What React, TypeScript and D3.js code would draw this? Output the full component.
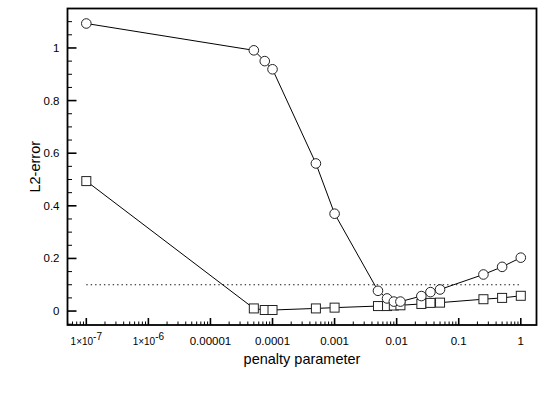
import React, { useRef, useEffect } from "react"
import * as d3 from "d3"

// penalty values (x) shared by both series
const penalty = [1e-7, 5e-5, 7.5e-5, 1e-4, 5e-4, 1e-3, 5e-3, 7e-3, 9e-3, 1.15e-2, 2.5e-2, 3.5e-2, 5e-2, 0.25, 0.5, 1]
const circleErr = [1.093, 0.991, 0.95, 0.919, 0.561, 0.37, 0.077, 0.048, 0.036, 0.036, 0.057, 0.072, 0.082, 0.139, 0.168, 0.203]
const squareErr = [0.494, 0.01, 0.004, 0.004, 0.01, 0.013, 0.019, 0.019, 0.021, 0.022, 0.027, 0.031, 0.032, 0.045, 0.05, 0.058]
const threshold = 0.1
const yTicks = [0, 0.2, 0.4, 0.6, 0.8, 1]
const xTickExp = [-7, -6, -5, -4, -3, -2, -1, 0]
const xTickLabels = ["1x10|-7", "1x10|-6", "0.00001", "0.0001", "0.001", "0.01", "0.1", "1"]

export default function App() {
  const svgRef = useRef(null)

  useEffect(() => {
    const svg = d3.select(svgRef.current)
    svg.selectAll("*").remove()

    const left = 67.5, right = 536.5, top = 8.5, bottom = 325
    const font = "'Liberation Sans', Arial, Helvetica, sans-serif"

    const x = d3.scaleLog().domain([Math.pow(10, -7.303), Math.pow(10, 0.253)]).range([left, right])
    const y = d3.scaleLinear().domain([-0.053, 1.15]).range([bottom, top])

    const g = svg.append("g")

    // y ticks (major + minor), drawn inward
    const yMinor = d3.range(-0.05, 1.151, 0.05).map(v => +v.toFixed(2))
    g.selectAll(".ymin").data(yMinor).enter().append("line")
      .attr("x1", left).attr("x2", d => yTicks.includes(d) ? left + 9 : left + 4.5)
      .attr("y1", d => y(d)).attr("y2", d => y(d))
      .attr("stroke", "black").attr("stroke-width", d => yTicks.includes(d) ? 1.6 : 1)

    g.selectAll(".ylab").data(yTicks).enter().append("text")
      .attr("x", left - 8).attr("y", d => y(d) + 4)
      .attr("text-anchor", "end")
      .attr("font-family", font).attr("font-size", "11.5px")
      .text(d => d3.format("~g")(d))

    // x ticks: majors at decades, minors at 2..9
    const xMinor = []
    for (let e = -8; e <= 0; e++) {
      for (let m = 2; m <= 9; m++) {
        const v = m * Math.pow(10, e)
        if (x(v) > left && x(v) < right) xMinor.push(v)
      }
    }
    g.selectAll(".xmin").data(xMinor).enter().append("line")
      .attr("x1", d => x(d)).attr("x2", d => x(d))
      .attr("y1", bottom).attr("y2", bottom - 3.5)
      .attr("stroke", "black").attr("stroke-width", 1)

    g.selectAll(".xmaj").data(xTickExp).enter().append("line")
      .attr("x1", d => x(Math.pow(10, d))).attr("x2", d => x(Math.pow(10, d)))
      .attr("y1", bottom).attr("y2", bottom - 7)
      .attr("stroke", "black").attr("stroke-width", 1.6)

    const xl = g.selectAll(".xlab").data(xTickExp).enter().append("text")
      .attr("x", d => x(Math.pow(10, d)))
      .attr("y", 345)
      .attr("text-anchor", "middle")
      .attr("font-family", font).attr("font-size", "11.5px")
    xl.each(function (d, i) {
      const t = d3.select(this)
      const lab = xTickLabels[i]
      if (lab.includes("|")) {
        const [base, sup] = lab.split("|")
        t.append("tspan").attr("font-size", "10px").text(base.replace("x", "\u00d7"))
        t.append("tspan").attr("font-size", "10px").attr("dy", -5).text(sup)
      } else {
        t.text(lab)
      }
    })

    // threshold dotted line
    g.append("line")
      .attr("x1", x(1e-7)).attr("x2", x(1))
      .attr("y1", y(threshold)).attr("y2", y(threshold))
      .attr("stroke", "#111").attr("stroke-width", 1.1)
      .attr("stroke-dasharray", "1.4,3")

    const lineC = d3.line().x((d, i) => x(penalty[i])).y(d => y(d))

    g.append("path").datum(squareErr).attr("d", lineC)
      .attr("fill", "none").attr("stroke", "black").attr("stroke-width", 1)
    g.append("path").datum(circleErr).attr("d", lineC)
      .attr("fill", "none").attr("stroke", "black").attr("stroke-width", 1)

    g.selectAll(".sq").data(squareErr).enter().append("rect")
      .attr("x", (d, i) => x(penalty[i]) - 4.5).attr("y", d => y(d) - 4.5)
      .attr("width", 9).attr("height", 9)
      .attr("fill", "white").attr("stroke", "#222").attr("stroke-width", 1)

    g.selectAll(".ci").data(circleErr).enter().append("circle")
      .attr("cx", (d, i) => x(penalty[i])).attr("cy", d => y(d))
      .attr("r", 4.8)
      .attr("fill", "white").attr("stroke", "#222").attr("stroke-width", 1)

    // frame
    g.append("rect")
      .attr("x", left).attr("y", top)
      .attr("width", right - left).attr("height", bottom - top)
      .attr("fill", "none").attr("stroke", "black").attr("stroke-width", 1.8)

    // axis titles
    g.append("text")
      .attr("x", (left + right) / 2).attr("y", 364)
      .attr("text-anchor", "middle")
      .attr("font-family", font).attr("font-size", "14.5px")
      .text("penalty parameter")

    g.append("text")
      .attr("transform", "translate(40," + ((top + bottom) / 2) + ") rotate(-90)")
      .attr("text-anchor", "middle")
      .attr("font-family", font).attr("font-size", "14.5px")
      .text("L2-error")
  }, [])

  return (
    <svg ref={svgRef} width={545} height={393}
      style={{ position: "absolute", left: 0, top: 0, background: "white" }} />
  )
}
